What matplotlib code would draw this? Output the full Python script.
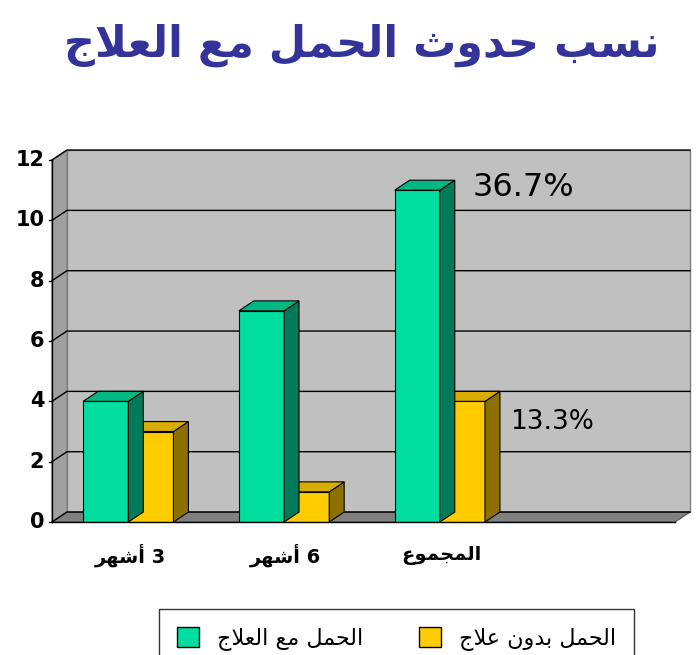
import matplotlib
matplotlib.use("Agg")
from matplotlib import pyplot as plt
from matplotlib.patches import Polygon, Rectangle

# data
categories = ["3 أشهر", "6 أشهر", "المجموع"]
with_treatment = [4, 7, 11]
without_treatment = [3, 1, 4]
series_names = ["الحمل مع العلاج", "الحمل بدون علاج"]
title = "نسب حدوث الحمل مع العلاج"

# minimal arabic shaping (matplotlib has none): isolated, final, initial, medial
FORMS = {
    "ا": (0xFE8D, 0xFE8E, None, None), "أ": (0xFE83, 0xFE84, None, None),
    "ب": (0xFE8F, 0xFE90, 0xFE91, 0xFE92), "ث": (0xFE99, 0xFE9A, 0xFE9B, 0xFE9C),
    "ج": (0xFE9D, 0xFE9E, 0xFE9F, 0xFEA0), "ح": (0xFEA1, 0xFEA2, 0xFEA3, 0xFEA4),
    "د": (0xFEA9, 0xFEAA, None, None), "ر": (0xFEAD, 0xFEAE, None, None),
    "س": (0xFEB1, 0xFEB2, 0xFEB3, 0xFEB4), "ش": (0xFEB5, 0xFEB6, 0xFEB7, 0xFEB8),
    "ع": (0xFEC9, 0xFECA, 0xFECB, 0xFECC), "ل": (0xFEDD, 0xFEDE, 0xFEDF, 0xFEE0),
    "م": (0xFEE1, 0xFEE2, 0xFEE3, 0xFEE4), "ن": (0xFEE5, 0xFEE6, 0xFEE7, 0xFEE8),
    "ه": (0xFEE9, 0xFEEA, 0xFEEB, 0xFEEC), "و": (0xFEED, 0xFEEE, None, None),
    "لا": (0xFEFB, 0xFEFC, None, None),
}


def shape_word(w):
    letters = []
    i = 0
    while i < len(w):
        if w[i] == "ل" and i + 1 < len(w) and w[i + 1] == "ا":
            letters.append("لا")
            i += 2
        else:
            letters.append(w[i])
            i += 1
    out = []
    for k, ch in enumerate(letters):
        if ch not in FORMS:
            out.append(ch)
            continue
        prev_joins = k > 0 and letters[k - 1] in FORMS and FORMS[letters[k - 1]][2] is not None
        next_joins = k + 1 < len(letters) and letters[k + 1] in FORMS and FORMS[ch][2] is not None
        iso, fin, ini, med = FORMS[ch]
        if prev_joins and next_joins:
            code = med
        elif prev_joins:
            code = fin
        elif next_joins:
            code = ini
        else:
            code = iso
        out.append(chr(code))
    return "".join(out)[::-1]


def ar(text):
    # visual order for a right-to-left line
    words = text.split(" ")
    res = []
    for w in reversed(words):
        if w.isdigit():
            res.append(w)
        else:
            res.append(shape_word(w))
    return " ".join(res)


FONT = ["DejaVu Sans"]
W, H = 698, 655
fig = plt.figure(figsize=(W / 100, H / 100), dpi=100)
fig.patch.set_facecolor("white")
ax = fig.add_axes([52 / W, (H - 522) / H, (675 - 52) / W, (522 - 160) / H])
ax.set_xlim(0, 4)
ax.set_ylim(0, 12)
ax.axis("off")

dx, dy = 0.096, 0.33
green, green_side, green_top = "#00dd9f", "#007a58", "#00b882"
yellow, yellow_side, yellow_top = "#ffcc00", "#8c7000", "#d9ad00"

# back wall, side wall, floor
ax.add_patch(Rectangle((dx, dy), 4, 12, facecolor="#c0c0c0", edgecolor="#808080", clip_on=False, zorder=0))
ax.add_patch(Polygon([(0, 0), (dx, dy), (dx, 12 + dy), (0, 12)], facecolor="#a0a0a0",
                     edgecolor="#808080", clip_on=False, zorder=0))
ax.add_patch(Polygon([(0, 0), (4, 0), (4 + dx, dy), (dx, dy)], facecolor="#808080",
                     edgecolor="#606060", clip_on=False, zorder=1))
for t in range(0, 13, 2):
    ax.plot([0, dx, 4 + dx], [t, t + dy, t + dy], color="black", lw=1, clip_on=False, zorder=1)
    ax.plot([-0.02, 0], [t, t], color="black", lw=1, clip_on=False)
    ax.text(-0.05, t, str(t), ha="right", va="center", fontsize=15, fontweight="bold", family=FONT)
ax.plot([0, 0], [0, 12], color="black", lw=1, clip_on=False)
ax.plot([0, 4], [0, 0], color="black", lw=1, clip_on=False, zorder=5)


def bar3d(x, h, w, front, side, top):
    ax.add_patch(Rectangle((x, 0), w, h, facecolor=front, edgecolor="black", lw=0.8, zorder=3))
    ax.add_patch(Polygon([(x + w, 0), (x + w + dx, dy), (x + w + dx, h + dy), (x + w, h)],
                         facecolor=side, edgecolor="black", lw=0.8, zorder=3))
    ax.add_patch(Polygon([(x, h), (x + dx, h + dy), (x + w + dx, h + dy), (x + w, h)],
                         facecolor=top, edgecolor="black", lw=0.8, zorder=3))


bw = 0.29
for i, (g, y) in enumerate(zip(with_treatment, without_treatment)):
    bar3d(i + 0.2 + bw, y, bw, yellow, yellow_side, yellow_top)
    bar3d(i + 0.2, g, bw, green, green_side, green_top)
    ax.text(i + 0.5, -1.1, ar(categories[i]), ha="center", va="center", fontsize=14,
            fontweight="bold", family=FONT)

ax.text(2.7, 11.1, "36.7%", fontsize=23, va="center", family=FONT)
ax.text(2.94, 3.3, "13.3%", fontsize=19, va="center", family=FONT)

fig.text(362 / W, 1 - 45 / H, ar(title), ha="center", va="center", fontsize=31,
         fontweight="bold", color="#333399", family=FONT)

handles = [Rectangle((0, 0), 1, 1, facecolor=green, edgecolor="black"),
           Rectangle((0, 0), 1, 1, facecolor=yellow, edgecolor="black")]
leg = fig.legend(handles, [ar(n) for n in series_names], loc="upper left", ncol=2,
                 bbox_to_anchor=(148 / W, 1 - 598 / H), frameon=True, fancybox=False,
                 edgecolor="black", prop={"family": FONT, "size": 16}, borderpad=0.8,
                 columnspacing=2.5, handlelength=1.0, handleheight=1.0)

fig.savefig("out.png", dpi=100)
